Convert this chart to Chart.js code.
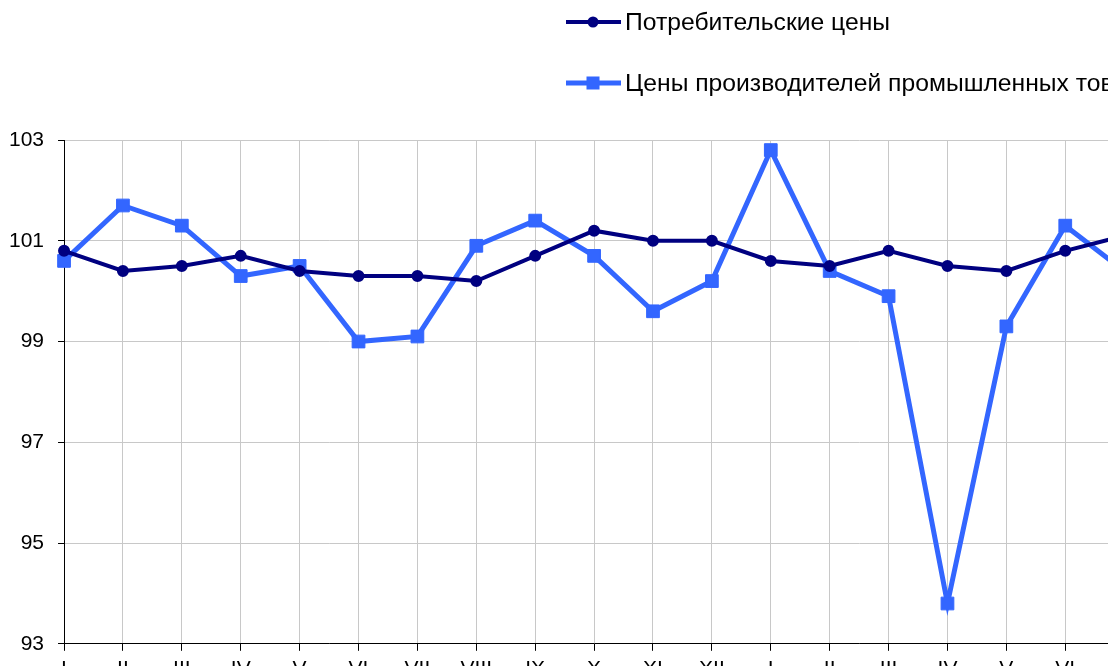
<!DOCTYPE html>
<html>
<head>
<meta charset="utf-8">
<script src="https://cdn.jsdelivr.net/npm/chart.js@4.4.1/dist/chart.umd.min.js"></script>
<style>
html,body{margin:0;padding:0;overflow:hidden;background:#fff;}
#wrap{position:absolute;left:-5px;top:0;width:1148px;height:705px;}
</style>
</head>
<body>
<div id="wrap"><canvas id="c"></canvas></div>
<script>
const months = ['I','II','III','IV','V','VI','VII','VIII','IX','X','XI','XII','I','II','III','IV','V','VI','VII'];
const consumerPrices = [100.8,100.4,100.5,100.7,100.4,100.3,100.3,100.2,100.7,101.2,101.0,101.0,100.6,100.5,100.8,100.5,100.4,100.8,101.1];
const producerPrices = [100.6,101.7,101.3,100.3,100.5,99.0,99.1,100.9,101.4,100.7,99.6,100.2,102.8,100.4,99.9,93.8,99.3,101.3,100.4];
const seriesNames = ['Потребительские цены','Цены производителей промышленных товаров'];
const yTicks = [93,95,97,99,101,103];

const FONT = 'Arial, "Liberation Sans", sans-serif';

const customLegend = {
  id: 'customLegend',
  afterDraw(chart) {
    const ctx = chart.ctx;
    const rows = [22, 83];
    const ox = 5;
    ctx.save();
    chart.data.datasets.forEach((ds, i) => {
      const y = rows[i];
      ctx.strokeStyle = ds.borderColor;
      ctx.lineWidth = ds.borderWidth;
      ctx.beginPath();
      ctx.moveTo(566 + ox, y);
      ctx.lineTo(621 + ox, y);
      ctx.stroke();
      ctx.fillStyle = ds.pointBackgroundColor;
      if (ds.pointStyle === 'rect') {
        ctx.fillRect(593 + ox - 6.5, y - 6.5, 13, 13);
      } else {
        ctx.beginPath();
        ctx.arc(593 + ox, y, 5.5, 0, Math.PI * 2);
        ctx.fill();
      }
      ctx.fillStyle = '#000';
      ctx.font = '24.7px ' + FONT;
      ctx.textBaseline = 'middle';
      ctx.textAlign = 'left';
      ctx.fillText(ds.label, 625 + ox, y + 1);
    });
    ctx.restore();
  }
};

new Chart(document.getElementById('c'), {
  type: 'line',
  data: {
    labels: months,
    datasets: [
      {
        label: seriesNames[0],
        data: consumerPrices,
        borderColor: '#000080',
        backgroundColor: '#000080',
        pointBackgroundColor: '#000080',
        pointBorderColor: '#000080',
        borderWidth: 4,
        pointRadius: 5,
        pointBorderWidth: 2,
        pointStyle: 'circle',
        tension: 0
      },
      {
        label: seriesNames[1],
        data: producerPrices,
        borderColor: '#3366FF',
        backgroundColor: '#3366FF',
        pointBackgroundColor: '#3366FF',
        pointBorderColor: '#3366FF',
        borderWidth: 5,
        pointRadius: 9,
        pointBorderWidth: 1,
        pointStyle: 'rect',
        tension: 0
      }
    ]
  },
  options: {
    responsive: true,
    maintainAspectRatio: false,
    animation: false,
    layout: { padding: { top: 140, left: 0, right: 0, bottom: 17 } },
    plugins: {
      legend: { display: false },
      tooltip: { enabled: false }
    },
    scales: {
      x: {
        offset: false,
        grid: { color: '#c8c8c8', lineWidth: 1, tickLength: 7, tickColor: '#000', drawTicks: true },
        border: { color: '#000', width: 1 },
        ticks: { color: '#000', font: { family: FONT, size: 21 }, padding: 6, maxRotation: 0, autoSkip: false }
      },
      y: {
        min: 93, max: 103,
        afterBuildTicks(axis) { axis.ticks = yTicks.map(v => ({ value: v })); },
        grid: { color: '#c8c8c8', lineWidth: 1, tickLength: 6, tickColor: '#000' },
        border: { color: '#000', width: 1 },
        ticks: { color: '#000', font: { family: FONT, size: 21 }, padding: 14 }
      }
    }
  },
  plugins: [customLegend]
});
</script>
</body>
</html>
